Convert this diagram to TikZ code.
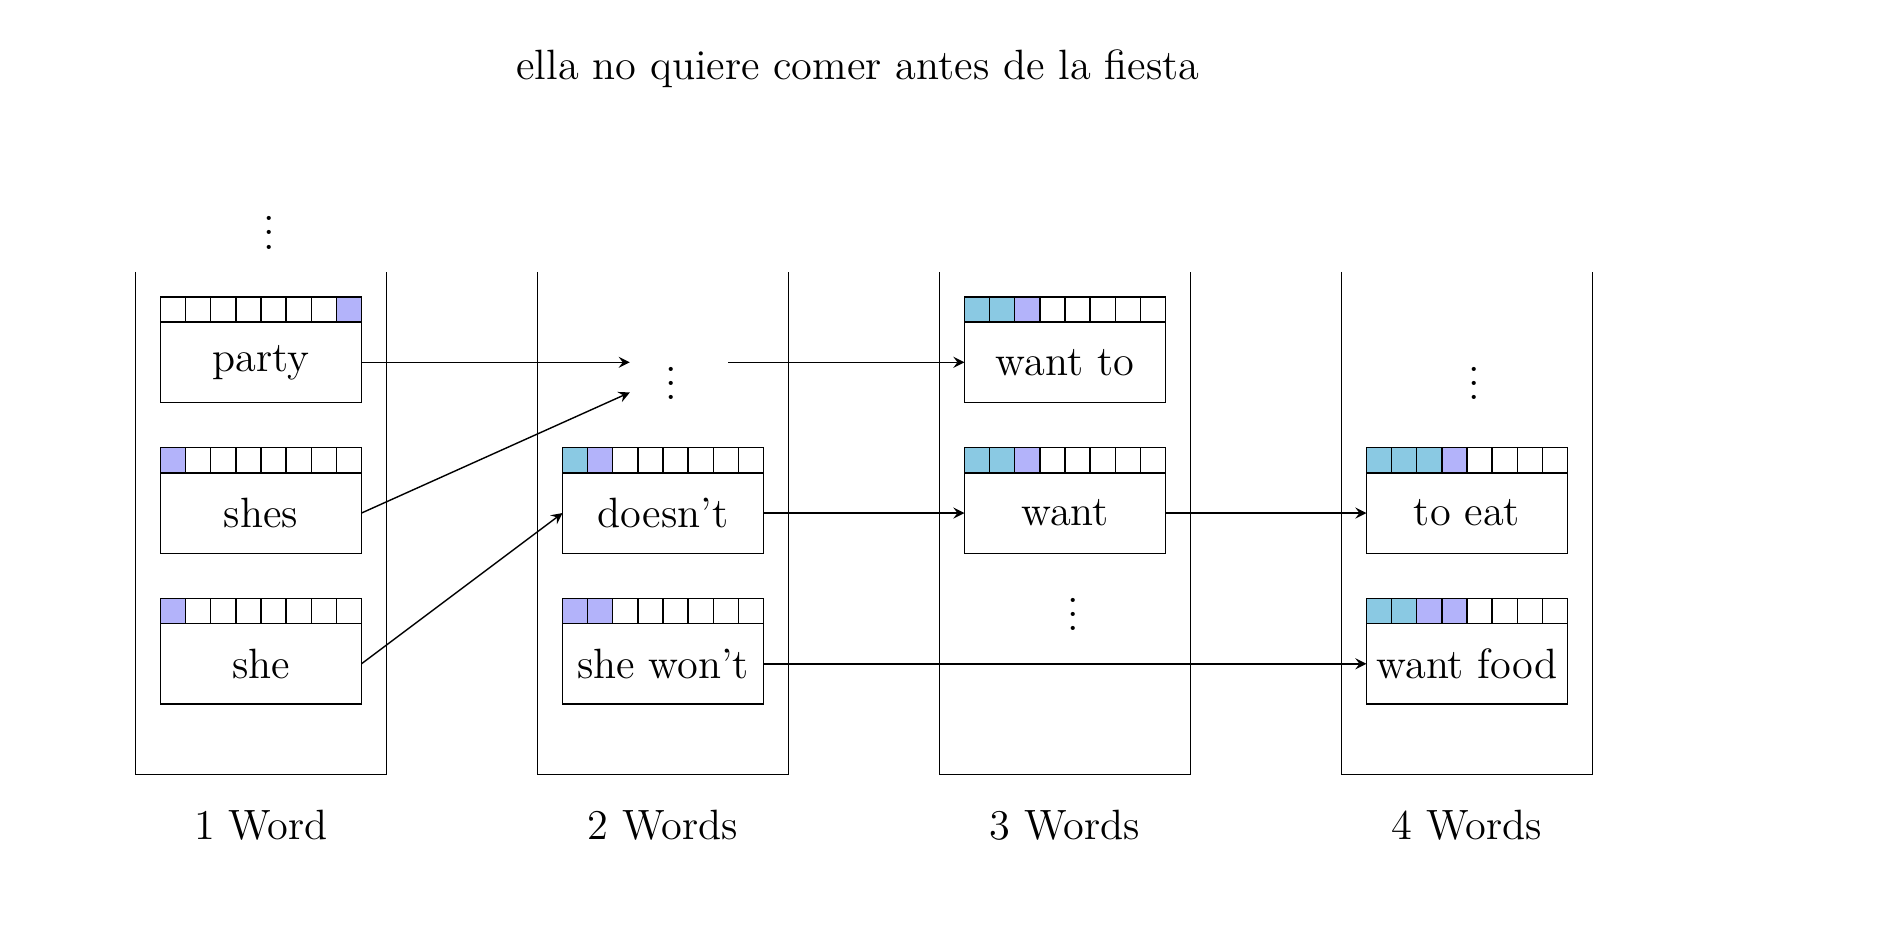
\documentclass[tikz,border=0pt,12pt]{standalone}
\usetikzlibrary{arrows}
\definecolor{cellblue}{RGB}{138,201,227}
\definecolor{cellpurple}{RGB}{179,179,250}
\tikzset{
  wbox/.style={draw, minimum width=2cm, minimum height=0.8cm, inner sep=0pt, outer sep=0pt},
  cellbox/.style={draw, minimum size=0.25cm, inner sep=0pt, outer sep=0pt, anchor=south west},
  vd/.style={anchor=base, inner sep=0pt},
  arr/.style={-stealth},
  collabel/.style={inner sep=1pt},
}
\newcommand\wordbox[4]{%
  \node[wbox] (#1) at (#2) {#3};
  \foreach \c [count=\i from 0] in {#4} {
    \node[cellbox, fill=\c] (#1-c\i) at ([xshift=\i*0.25cm]#1.north west) {};
  }
}
\begin{document}
\begin{tikzpicture}
\useasboundingbox (-2.597,3.605) rectangle (16.189,-5.629);
% title
\node (title) at (5.94,2.92) {ella no quiere comer antes de la fiesta};
% columns
\foreach \x in {0,4,8,12} {
  \draw (\x-1.25,0.9) -- (\x-1.25,-4.1) -- (\x+1.25,-4.1) -- (\x+1.25,0.9);
}
\node[collabel] (l1) at (0,-4.61) {1 Word};
\node[collabel] (l2) at (4,-4.61) {2 Words};
\node[collabel] (l3) at (8,-4.61) {3 Words};
\node[collabel] (l4) at (12,-4.61) {4 Words};
% column 1
\wordbox{party}{0,0}{party}{white,white,white,white,white,white,white,cellpurple}
\wordbox{shes}{0,-1.5}{shes}{cellpurple,white,white,white,white,white,white,white}
\wordbox{she}{0,-3}{she}{cellpurple,white,white,white,white,white,white,white}
% column 2
\wordbox{doesnt}{4,-1.5}{doesn't}{cellblue,cellpurple,white,white,white,white,white,white}
\wordbox{shewont}{4,-3}{she won't}{cellpurple,cellpurple,white,white,white,white,white,white}
% column 3
\wordbox{wantto}{8,0}{want to}{cellblue,cellblue,cellpurple,white,white,white,white,white}
\wordbox{want}{8,-1.5}{want}{cellblue,cellblue,cellpurple,white,white,white,white,white}
% column 4
\wordbox{toeat}{12,-1.5}{to eat}{cellblue,cellblue,cellblue,cellpurple,white,white,white,white}
\wordbox{wantfood}{12,-3}{want food}{cellblue,cellblue,cellpurple,cellpurple,white,white,white,white}
% dots
\node[vd] (dots1) at (0.08,1.127) {\vdots};
\node[vd] (dots2) at (4.08,-0.373) {\vdots};
\node[vd] (dots3) at (8.08,-2.673) {\vdots};
\node[vd] (dots4) at (12.07,-0.373) {\vdots};
% arrow ends near the dots
\coordinate (d2a) at (3.67,0);
\coordinate (d2b) at (3.67,-0.3);
\coordinate (d2out) at (4.65,0);
% connectors
\draw[arr] (party.east) -- (d2a);
\draw[arr] (shes.east) -- (d2b);
\draw[arr] (she.east) -- (doesnt.west);
\draw[arr] (d2out) -- (wantto.west);
\draw[arr] (doesnt.east) -- (want.west);
\draw[arr] (want.east) -- (toeat.west);
\draw[arr] (shewont.east) -- (wantfood.west);
\end{tikzpicture}
\end{document}
